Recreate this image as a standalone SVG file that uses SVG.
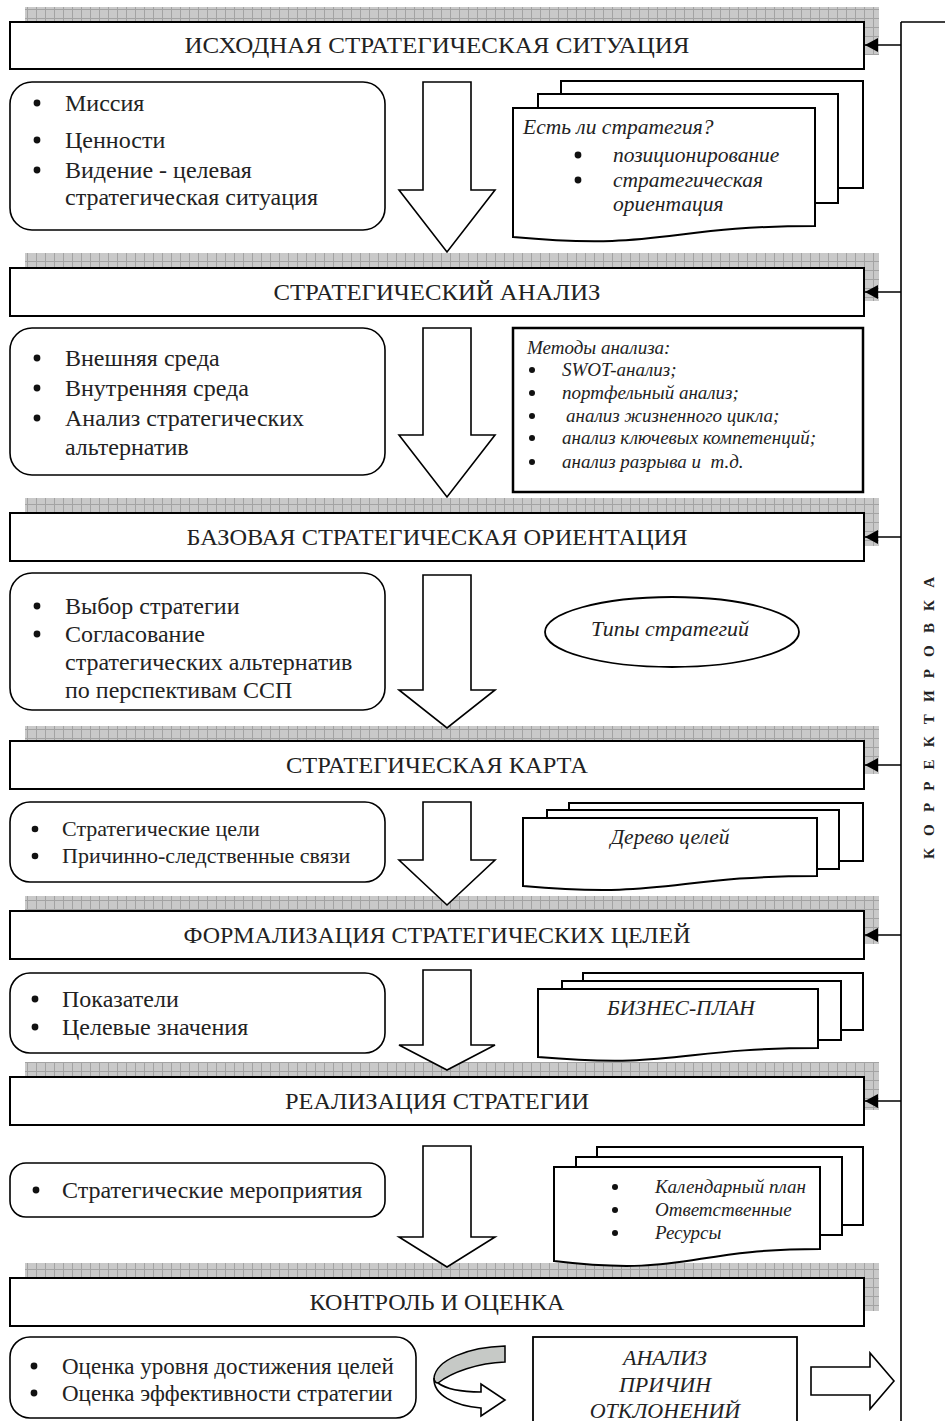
<svg xmlns="http://www.w3.org/2000/svg" width="945" height="1421" viewBox="0 0 945 1421">
<defs>
<pattern id="grid" width="9" height="9" patternUnits="userSpaceOnUse">
<rect width="9" height="9" fill="#c9c9c9"/>
<path d="M0 0.5H9M0.5 0V9" stroke="#a3a3a3" stroke-width="1"/>
</pattern>
<marker id="ah" markerWidth="13" markerHeight="14" refX="13" refY="7" orient="auto" markerUnits="userSpaceOnUse">
<path d="M0,0 L13,7 L0,14 Z" fill="#000"/>
</marker>
</defs>
<style>
.grid{fill:url(#grid)}
.hb{fill:#fff;stroke:#000;stroke-width:2}
.rb{fill:#fff;stroke:#000;stroke-width:1.6}
.pg{fill:#fff;stroke:#000;stroke-width:2}
.ar{fill:#fff;stroke:#000;stroke-width:1.6;stroke-linejoin:miter}
.ln{fill:none;stroke:#000;stroke-width:1.6}
text{font-family:"Liberation Serif","Times New Roman",serif;fill:#222}
.h{font-size:23px;text-anchor:middle}
.b{font-size:24px}
.s{font-size:22px}
.it{font-size:21.5px;font-style:italic}
.m{text-anchor:middle}
.dot{fill:#111}
</style>

<!-- Headers -->
<g id="h1"><rect class="grid" x="25" y="7" width="854" height="48"/><rect class="hb" x="10" y="22" width="854" height="47"/><text class="h" x="437" y="53" textLength="505" lengthAdjust="spacingAndGlyphs">ИСХОДНАЯ СТРАТЕГИЧЕСКАЯ СИТУАЦИЯ</text></g>
<g id="h2"><rect class="grid" x="25" y="253" width="854" height="48"/><rect class="hb" x="10" y="268" width="854" height="48"/><text class="h" x="437" y="300" textLength="327" lengthAdjust="spacingAndGlyphs">СТРАТЕГИЧЕСКИЙ АНАЛИЗ</text></g>
<g id="h3"><rect class="grid" x="25" y="498" width="854" height="48"/><rect class="hb" x="10" y="513" width="854" height="48"/><text class="h" x="437" y="545" textLength="501" lengthAdjust="spacingAndGlyphs">БАЗОВАЯ СТРАТЕГИЧЕСКАЯ ОРИЕНТАЦИЯ</text></g>
<g id="h4"><rect class="grid" x="25" y="726" width="854" height="48"/><rect class="hb" x="10" y="741" width="854" height="48"/><text class="h" x="437" y="773" textLength="302" lengthAdjust="spacingAndGlyphs">СТРАТЕГИЧЕСКАЯ КАРТА</text></g>
<g id="h5"><rect class="grid" x="25" y="896" width="854" height="48"/><rect class="hb" x="10" y="911" width="854" height="48"/><text class="h" x="437" y="943" textLength="507" lengthAdjust="spacingAndGlyphs">ФОРМАЛИЗАЦИЯ СТРАТЕГИЧЕСКИХ ЦЕЛЕЙ</text></g>
<g id="h6"><rect class="grid" x="25" y="1062" width="854" height="48"/><rect class="hb" x="10" y="1077" width="854" height="48"/><text class="h" x="437" y="1109" textLength="304" lengthAdjust="spacingAndGlyphs">РЕАЛИЗАЦИЯ СТРАТЕГИИ</text></g>
<g id="h7"><rect class="grid" x="25" y="1263" width="854" height="48"/><rect class="hb" x="10" y="1278" width="854" height="48"/><text class="h" x="437" y="1310" textLength="255" lengthAdjust="spacingAndGlyphs">КОНТРОЛЬ И ОЦЕНКА</text></g>

<!-- Section 1 -->
<g id="b1">
<rect class="rb" x="10" y="82" width="375" height="148" rx="22"/>
<circle class="dot" cx="37" cy="103" r="3.4"/><text class="b" x="65" y="111">Миссия</text>
<circle class="dot" cx="37" cy="140" r="3.4"/><text class="b" x="65" y="148">Ценности</text>
<circle class="dot" cx="37" cy="170" r="3.4"/><text class="b" x="65" y="178">Видение - целевая</text>
<text class="b" x="65" y="205">стратегическая ситуация</text>
</g>
<g id="d1">
<rect class="pg" x="561" y="81" width="302" height="107"/>
<rect class="pg" x="538" y="94" width="300" height="109"/>
<path class="pg" d="M513,108 H815 V226 C664,226 664,251 513,237 Z"/>
<text class="it" x="523" y="134">Есть ли стратегия?</text>
<circle class="dot" cx="578" cy="155" r="3.4"/><text class="it" x="613" y="162">позиционирование</text>
<circle class="dot" cx="578" cy="180" r="3.4"/><text class="it" x="613" y="187">стратегическая</text>
<text class="it" x="613" y="211">ориентация</text>
</g>

<!-- Section 2 -->
<g id="b2">
<rect class="rb" x="10" y="328" width="375" height="147" rx="22"/>
<circle class="dot" cx="37" cy="358" r="3.4"/><text class="b" x="65" y="366">Внешняя среда</text>
<circle class="dot" cx="37" cy="388" r="3.4"/><text class="b" x="65" y="396">Внутренняя среда</text>
<circle class="dot" cx="37" cy="418" r="3.4"/><text class="b" x="65" y="426">Анализ стратегических</text>
<text class="b" x="65" y="455">альтернатив</text>
</g>
<g id="m2">
<rect x="513" y="328" width="350" height="164" fill="#fff" stroke="#000" stroke-width="2.5"/>
<g style="font-size:19px;font-style:italic">
<text x="527" y="354">Методы анализа:</text>
<circle class="dot" cx="532" cy="370" r="3"/><text x="562" y="376">SWOT-анализ;</text>
<circle class="dot" cx="532" cy="393" r="3"/><text x="562" y="399">портфельный анализ;</text>
<circle class="dot" cx="532" cy="416" r="3"/><text x="566" y="422">анализ жизненного цикла;</text>
<circle class="dot" cx="532" cy="438" r="3"/><text x="562" y="444">анализ ключевых компетенций;</text>
<circle class="dot" cx="532" cy="462" r="3"/><text x="562" y="468">анализ разрыва и&#160; т.д.</text>
</g>
</g>

<!-- Section 3 -->
<g id="b3">
<rect class="rb" x="10" y="573" width="375" height="137" rx="22"/>
<circle class="dot" cx="37" cy="606" r="3.4"/><text class="b" x="65" y="614">Выбор стратегии</text>
<circle class="dot" cx="37" cy="634" r="3.4"/><text class="b" x="65" y="642">Согласование</text>
<text class="b" x="65" y="670">стратегических альтернатив</text>
<text class="b" x="65" y="698">по перспективам ССП</text>
</g>
<g id="e3">
<ellipse cx="672" cy="632" rx="127" ry="35" fill="#fff" stroke="#000" stroke-width="1.8"/>
<text class="m" x="670" y="636" style="font-size:22px;font-style:italic">Типы стратегий</text>
</g>

<!-- Section 4 -->
<g id="b4">
<rect class="rb" x="10" y="802" width="375" height="80" rx="20"/>
<circle class="dot" cx="35" cy="829" r="3.3"/><text class="s" x="62" y="836">Стратегические цели</text>
<circle class="dot" cx="35" cy="856" r="3.3"/><text class="s" x="62" y="863">Причинно-следственные связи</text>
</g>
<g id="d4">
<rect class="pg" x="569" y="803" width="294" height="58"/>
<rect class="pg" x="547" y="810" width="292" height="59"/>
<path class="pg" d="M523,818 H817 V876 C670,876 670,899 523,886 Z"/>
<text class="it m" x="670" y="844">Дерево целей</text>
</g>

<!-- Section 5 -->
<g id="b5">
<rect class="rb" x="10" y="973" width="375" height="80" rx="20"/>
<circle class="dot" cx="35" cy="999" r="3.4"/><text class="b" x="62" y="1007">Показатели</text>
<circle class="dot" cx="35" cy="1027" r="3.4"/><text class="b" x="62" y="1035">Целевые значения</text>
</g>
<g id="d5">
<rect class="pg" x="583" y="973" width="280" height="57"/>
<rect class="pg" x="562" y="981" width="279" height="59"/>
<path class="pg" d="M538,989 H818 V1048 C678,1048 678,1069 538,1057 Z"/>
<text class="it m" x="681" y="1015">БИЗНЕС-ПЛАН</text>
</g>

<!-- Section 6 -->
<g id="b6">
<rect class="rb" x="10" y="1163" width="375" height="54" rx="16"/>
<circle class="dot" cx="36" cy="1190" r="3.4"/><text class="b" x="62" y="1198">Стратегические мероприятия</text>
</g>
<g id="d6">
<rect class="pg" x="597" y="1147" width="266" height="78"/>
<rect class="pg" x="576" y="1157" width="266" height="78"/>
<path class="pg" d="M554,1167 H820 V1249 C687,1249 687,1277 554,1261 Z"/>
<g style="font-size:19px;font-style:italic">
<circle class="dot" cx="615" cy="1187" r="3"/><text x="655" y="1193">Календарный план</text>
<circle class="dot" cx="615" cy="1210" r="3"/><text x="655" y="1216">Ответственные</text>
<circle class="dot" cx="615" cy="1233" r="3"/><text x="655" y="1239">Ресурсы</text>
</g>
</g>

<!-- Section 7 -->
<g id="b7">
<rect class="rb" x="10" y="1337" width="406" height="81" rx="20"/>
<circle class="dot" cx="34" cy="1366" r="3.4"/><text x="62" y="1374" style="font-size:23px">Оценка уровня достижения целей</text>
<circle class="dot" cx="34" cy="1393" r="3.4"/><text x="62" y="1401" style="font-size:23px">Оценка эффективности стратегии</text>
</g>
<g id="a7">
<rect x="533" y="1337" width="264" height="100" fill="#fff" stroke="#000" stroke-width="1.8"/>
<g style="font-size:22px;font-style:italic">
<text class="m" x="665" y="1365">АНАЛИЗ</text>
<text class="m" x="665" y="1392">ПРИЧИН</text>
<text class="m" x="665" y="1418">ОТКЛОНЕНИЙ</text>
</g>
</g>
<g id="k">
<text x="0" y="0" transform="translate(934,718) rotate(-90)" text-anchor="middle" style="font-size:15px;font-weight:bold" textLength="282" lengthAdjust="spacing">К О Р Р Е К Т И Р О В К А</text>
</g>

<!-- Connectors -->
<g id="connectors">
<path class="ar" d="M423,82 H471 V190 H495 L447,252 L399,190 H423 Z"/>
<path class="ar" d="M423,328 H471 V435 H495 L447,497 L399,435 H423 Z"/>
<path class="ar" d="M423,575 H471 V690 H495 L447,728 L399,690 H423 Z"/>
<path class="ar" d="M423,802 H471 V860 H495 L447,905 L399,860 H423 Z"/>
<path class="ar" d="M423,970 H471 V1045 H495 L447,1070 L399,1045 H423 Z"/>
<path class="ar" d="M423,1146 H471 V1237 H495 L447,1267 L399,1237 H423 Z"/>
<path d="M505,1346 C468,1347 436,1360 434,1378 C434,1381 436,1383 438,1383 C452,1372 478,1363 505,1362 Z" fill="#c6c9c6" stroke="#000" stroke-width="1.5"/>
<path class="ar" d="M434,1378 C433,1395 455,1406 481,1408 V1416 L505,1400 L481,1384 V1392 C462,1392 446,1389 438,1383 C436,1383 434,1381 434,1378 Z"/>
<path class="ar" d="M811,1367 H870 V1353 L894,1381 L870,1409 V1395 H811 Z"/>
<path class="ln" d="M901,22 V1421 M901,22 H945"/>
<path class="ln" d="M901,45 H865" marker-end="url(#ah)"/>
<path class="ln" d="M901,292 H865" marker-end="url(#ah)"/>
<path class="ln" d="M901,537 H865" marker-end="url(#ah)"/>
<path class="ln" d="M901,765 H865" marker-end="url(#ah)"/>
<path class="ln" d="M901,935 H865" marker-end="url(#ah)"/>
<path class="ln" d="M901,1101 H865" marker-end="url(#ah)"/>
</g>
</svg>
